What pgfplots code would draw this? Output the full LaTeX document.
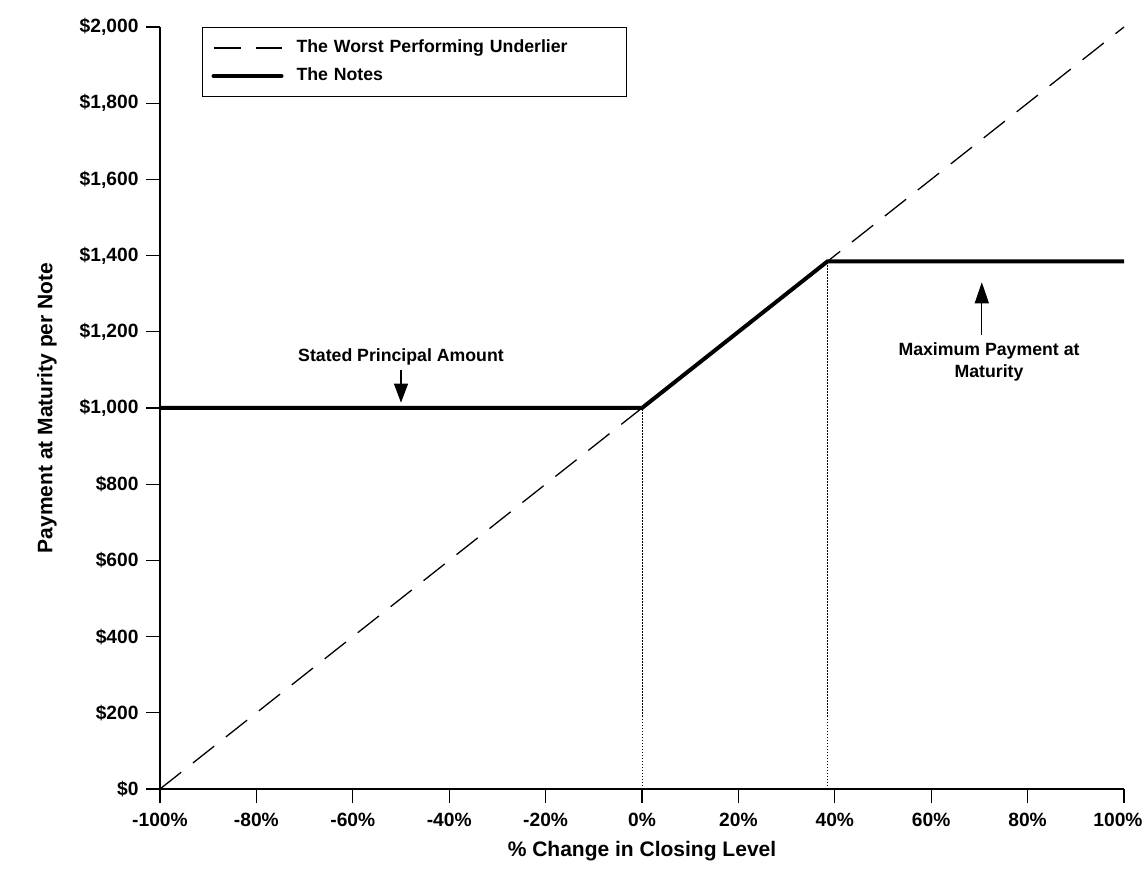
\documentclass[border=0pt]{standalone}
\usepackage{fontspec}
\setmainfont{Liberation Sans}
\usepackage{pgfplots}
\pgfplotsset{compat=1.18}
\usetikzlibrary{arrows.meta}
\pgfplotsset{
  legline/.style={legend image code/.code={\draw[##1] (0pt,0pt) -- (68pt,0pt);}},
  leglineround/.style={legend image code/.code={\draw[##1, line cap=round] (0pt,0pt) -- (68pt,0pt);}},
}
\begin{document}
\begin{tikzpicture}[x=1pt,y=1pt]
\useasboundingbox (-160,-91) rectangle (985,789);
\begin{axis}[
  at={(0,0)}, anchor=south west,
  scale only axis, width=964pt, height=762pt,
  xmin=-100, xmax=100, ymin=0, ymax=2000,
  clip=false,
  axis lines*=left,
  axis line style={line width=1.3pt, black},
  tick align=outside, major tick length=14pt,
  tick style={line width=1.3pt, black},
  xtick={-100,-80,-60,-40,-20,0,20,40,60,80,100},
  xticklabels={-100\%,-80\%,-60\%,-40\%,-20\%,0\%,20\%,40\%,60\%,80\%,\hspace*{-12pt}100\%},
  ytick={0,200,400,600,800,1000,1200,1400,1600,1800,2000},
  yticklabels={\$0,\$200,\$400,\$600,\$800,\$1{,}000,\$1{,}200,\$1{,}400,\$1{,}600,\$1{,}800,\$2{,}000},
  tick label style={font=\fontsize{19.2}{21}\selectfont\bfseries},
  xticklabel style={inner sep=0pt, yshift=-10pt},
  yticklabel style={xshift=-4pt},
  xlabel={\% Change in Closing Level},
  ylabel={Payment at Maturity per Note},
  xlabel style={font=\fontsize{21}{24}\selectfont\bfseries, at={(axis description cs:0.5,0)}, anchor=center, yshift=-62pt},
  ylabel style={font=\fontsize{21}{24}\selectfont\bfseries, at={(axis description cs:0,0.5)}, anchor=center, rotate=0, yshift=113pt},
  legend style={at={(axis description cs:0.0436,1.0)}, anchor=north west,
    draw=black, line width=1pt, inner xsep=9pt, inner ysep=12pt,
    row sep=11pt, column sep=13pt,
    font=\fontsize{17.7}{20}\selectfont\bfseries,
    nodes={text width=321pt, align=left, inner sep=0pt, text height=13pt, text depth=4pt}},
  legend cell align=left,
]
\addplot[black, line width=1.3pt, dash pattern=on 27pt off 15pt, legline]
  coordinates {(-100,0) (100,2000)};
\addlegendentry{The Worst Performing Underlier}
\addplot[black, line width=4pt, line join=miter, leglineround]
  coordinates {(-100,1000) (0,1000) (38.5,1385) (100,1385)};
\addlegendentry{The Notes}
\addplot[black, line width=1pt, dash pattern=on 1.5pt off 1.5pt, forget plot]
  coordinates {(0,0) (0,1000)};
\addplot[black, line width=1pt, dash pattern=on 1.5pt off 1.5pt, forget plot]
  coordinates {(38.5,0) (38.5,1385)};

\draw[black, line width=1.3pt, -{Triangle[length=19pt,width=14pt]}] (axis cs:-50,1100) -- (axis cs:-50,1014);
\node[font=\fontsize{17.7}{22}\selectfont\bfseries] at (axis cs:-50,1134) {Stated Principal Amount};
\draw[black, line width=1.3pt, -{Triangle[length=21pt,width=14pt]}] (axis cs:70.5,1192) -- (axis cs:70.5,1330);
\node[font=\fontsize{17.7}{22}\selectfont\bfseries, align=center] at (axis cs:72,1121) {Maximum Payment at\\Maturity};
\end{axis}
\end{tikzpicture}
\end{document}
